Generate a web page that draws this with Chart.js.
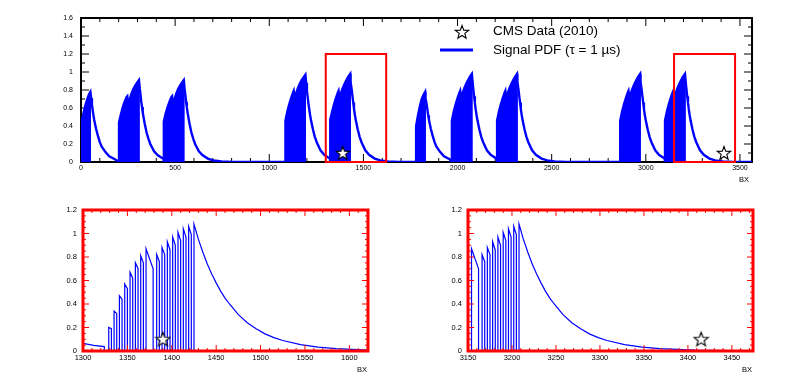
<!DOCTYPE html>
<html>
<head>
<meta charset="utf-8">
<script src="https://cdn.jsdelivr.net/npm/chart.js@4.4.1/dist/chart.umd.min.js"></script>
<style>
html, body { margin: 0; padding: 0; background: #fff; }
body { width: 788px; height: 381px; position: relative; overflow: hidden; }
canvas { position: absolute; }
#top { left: 0; top: 0; }
#zoomLeft { left: 0; top: 195px; }
#zoomRight { left: 394px; top: 195px; }
</style>
</head>
<body>
<canvas id="top" width="788" height="195"></canvas>
<canvas id="zoomLeft" width="394" height="186"></canvas>
<canvas id="zoomRight" width="394" height="186"></canvas>
<script>
// ---- data ----

// full orbit (top plot): bunch trains, envelope of the filled part + decay tail
const trainStartBX = [2, 202, 440, 1086, 1324, 1780, 1970, 2210, 2864, 3102];
const offsets16 = [0, 10, 20, 30, 40, 44, 49, 56, 66, 76, 86, 96, 106];
const offsets8 = [0, 10, 20, 30, 40, 48];
const trainEnvelope = [
  [0.42, 0.53, 0.62, 0.69, 0.75, 0.78],
  [0.44, 0.53, 0.61, 0.67, 0.72, 0.73, 0.62, 0.69, 0.76, 0.81, 0.85, 0.88, 0.91],
  [0.45, 0.54, 0.61, 0.67, 0.72, 0.73, 0.62, 0.69, 0.76, 0.81, 0.85, 0.88, 0.91],
  [0.46, 0.56, 0.64, 0.71, 0.77, 0.79, 0.70, 0.76, 0.82, 0.87, 0.91, 0.94, 0.97],
  [0.47, 0.56, 0.64, 0.71, 0.77, 0.79, 0.70, 0.76, 0.82, 0.87, 0.91, 0.95, 0.98],
  [0.40, 0.52, 0.62, 0.70, 0.75, 0.78],
  [0.46, 0.56, 0.64, 0.71, 0.77, 0.79, 0.70, 0.76, 0.82, 0.87, 0.91, 0.95, 0.98],
  [0.46, 0.56, 0.64, 0.71, 0.77, 0.79, 0.70, 0.76, 0.82, 0.87, 0.91, 0.95, 0.98],
  [0.46, 0.56, 0.64, 0.71, 0.77, 0.79, 0.70, 0.76, 0.82, 0.87, 0.91, 0.95, 0.98],
  [0.46, 0.56, 0.64, 0.71, 0.77, 0.79, 0.70, 0.76, 0.82, 0.87, 0.91, 0.95, 0.98]
];
const tailOffsets = [0, 4, 8, 12, 16, 20, 25, 30, 40, 50, 60, 80, 100, 130, 160, 200, 260];
const trainTail = [
  [0.78, 0.71, 0.64, 0.58, 0.52, 0.47, 0.42, 0.37, 0.29, 0.22, 0.17, 0.11, 0.064, 0.03, 0.014, 0.005, 0.001],
  [0.91, 0.82, 0.75, 0.67, 0.61, 0.55, 0.49, 0.43, 0.33, 0.26, 0.20, 0.12, 0.075, 0.035, 0.017, 0.006, 0.001],
  [0.91, 0.82, 0.75, 0.67, 0.61, 0.55, 0.49, 0.43, 0.33, 0.26, 0.20, 0.12, 0.075, 0.035, 0.017, 0.006, 0.001],
  [0.97, 0.88, 0.79, 0.72, 0.65, 0.59, 0.52, 0.46, 0.36, 0.28, 0.22, 0.13, 0.08, 0.038, 0.018, 0.007, 0.0015],
  [0.98, 0.89, 0.80, 0.73, 0.66, 0.59, 0.52, 0.46, 0.36, 0.28, 0.22, 0.13, 0.08, 0.038, 0.018, 0.007, 0.0015],
  [0.78, 0.71, 0.64, 0.58, 0.52, 0.47, 0.42, 0.37, 0.29, 0.22, 0.17, 0.11, 0.064, 0.03, 0.014, 0.005, 0.001],
  [0.98, 0.89, 0.80, 0.73, 0.66, 0.59, 0.52, 0.46, 0.36, 0.28, 0.22, 0.13, 0.08, 0.038, 0.018, 0.007, 0.0015],
  [0.98, 0.89, 0.80, 0.73, 0.66, 0.59, 0.52, 0.46, 0.36, 0.28, 0.22, 0.13, 0.08, 0.038, 0.018, 0.007, 0.0015],
  [0.98, 0.89, 0.80, 0.73, 0.66, 0.59, 0.52, 0.46, 0.36, 0.28, 0.22, 0.13, 0.08, 0.038, 0.018, 0.007, 0.0015],
  [0.98, 0.89, 0.80, 0.73, 0.66, 0.59, 0.52, 0.46, 0.36, 0.28, 0.22, 0.13, 0.08, 0.038, 0.018, 0.007, 0.0015]
];
const orbitBX = 3564;

// zoomed plots: single bunches resolved
const leadBX = [1300, 1312, 1324];
const leadPDF = [0.065, 0.048, 0.037];
const spikeBX = [1329, 1335, 1341, 1347, 1353, 1359, 1365, 1371, 1383, 1389, 1395, 1401, 1407, 1413, 1419,
                 3154, 3166, 3172, 3178, 3184, 3190, 3196, 3202];
const spikeEndBX = [1332, 1338, 1344, 1350, 1356, 1362, 1368, 1379, 1386, 1392, 1398, 1404, 1410, 1416, 1422,
                    3162, 3169, 3175, 3181, 3187, 3193, 3199, 3205];
const spikePeak = [0.20, 0.34, 0.47, 0.57, 0.67, 0.75, 0.81, 0.87, 0.82, 0.88, 0.93, 0.97, 1.01, 1.04, 1.06,
                   0.87, 0.82, 0.88, 0.93, 0.97, 1.01, 1.04, 1.06];
const spikeEnd = [0.19, 0.32, 0.44, 0.53, 0.62, 0.70, 0.75, 0.70, 0.76, 0.82, 0.86, 0.90, 0.94, 0.97, 0.99,
                  0.70, 0.76, 0.82, 0.86, 0.90, 0.94, 0.97, 0.99];
const tailLeftBX = [1425, 1430, 1435, 1440, 1445, 1450, 1455, 1460, 1465, 1475, 1485, 1495, 1505, 1515, 1525, 1545, 1565, 1585, 1625];
const tailLeftPDF = [1.08, 0.95, 0.84, 0.74, 0.655, 0.58, 0.51, 0.45, 0.40, 0.31, 0.24, 0.19, 0.146, 0.114, 0.089, 0.054, 0.033, 0.020, 0.007];
const tailRightBX = [3208, 3213, 3218, 3223, 3228, 3233, 3238, 3243, 3248, 3258, 3268, 3278, 3288, 3298, 3308, 3328, 3348, 3368, 3408, 3448, 3488];
const tailRightPDF = [1.08, 0.95, 0.84, 0.74, 0.655, 0.58, 0.51, 0.45, 0.40, 0.31, 0.24, 0.19, 0.146, 0.114, 0.089, 0.054, 0.033, 0.020, 0.007, 0.0025, 0.001];

// CMS data
const starBX = [1390, 3415];
const starPDF = [0.10, 0.10];

// axes
const topXTicks = [0, 500, 1000, 1500, 2000, 2500, 3000, 3500];
const topYTicks = [0, 0.2, 0.4, 0.6, 0.8, 1, 1.2, 1.4, 1.6];
const leftRange = [1300, 1621];
const rightRange = [3150, 3474];
const leftXTicks = [1300, 1350, 1400, 1450, 1500, 1550, 1600];
const rightXTicks = [3150, 3200, 3250, 3300, 3350, 3400, 3450];
const zoomYTicks = [0, 0.2, 0.4, 0.6, 0.8, 1, 1.2];

const BLUE = '#0000ff';
const RED = '#ff0000';
const FONT = 'Liberation Sans, Arial, Helvetica, sans-serif';

// ---- build point lists ----
const topLine = [{ x: 0, y: 0 }];
const trainFills = [];
trainStartBX.forEach((s, i) => {
  const offs = trainEnvelope[i].length === offsets16.length ? offsets16 : offsets8;
  const env = trainEnvelope[i].map((v, k) => ({ x: s + offs[k], y: v }));
  const end = s + offs[offs.length - 1];
  const next = i + 1 < trainStartBX.length ? trainStartBX[i + 1] : orbitBX;
  trainFills.push([{ x: s, y: 0 }, ...env, { x: end, y: 0 }]);
  topLine.push({ x: s, y: 0 }, ...env);
  tailOffsets.forEach((o, k) => {
    if (end + o < next) topLine.push({ x: end + o, y: trainTail[i][k] });
  });
});
topLine.push({ x: orbitBX, y: 0 });

const zoomLine = [];
const addSpike = i => zoomLine.push(
  { x: spikeBX[i], y: 0 }, { x: spikeBX[i], y: spikePeak[i] },
  { x: spikeEndBX[i], y: spikeEnd[i] }, { x: spikeEndBX[i], y: 0 });
leadBX.forEach((b, i) => zoomLine.push({ x: b, y: leadPDF[i] }));
zoomLine.push({ x: leadBX[leadBX.length - 1], y: 0 });
spikeBX.forEach((b, i) => { if (b < tailLeftBX[0]) addSpike(i); });
zoomLine.push({ x: tailLeftBX[0], y: 0 });
tailLeftBX.forEach((b, i) => zoomLine.push({ x: b, y: tailLeftPDF[i] }));
spikeBX.forEach((b, i) => { if (b > tailLeftBX[tailLeftBX.length - 1]) addSpike(i); });
zoomLine.push({ x: tailRightBX[0], y: 0 });
tailRightBX.forEach((b, i) => zoomLine.push({ x: b, y: tailRightPDF[i] }));

const stars = starBX.map((b, i) => ({ x: b, y: starPDF[i] }));

// ---- open star marker ----
function makeStar(size) {
  const c = document.createElement('canvas');
  c.width = size; c.height = size;
  const g = c.getContext('2d');
  const R = size / 2 - 1, r = R * 0.42, cx = size / 2, cy = size / 2 + 0.5;
  g.beginPath();
  for (let k = 0; k < 10; k++) {
    const rad = k % 2 ? r : R;
    const a = -Math.PI / 2 + k * Math.PI / 5;
    g.lineTo(cx + rad * Math.cos(a), cy + rad * Math.sin(a));
  }
  g.closePath();
  g.fillStyle = '#fff'; g.fill();
  g.strokeStyle = '#000'; g.lineWidth = 1.1; g.stroke();
  return c;
}

// ---- frame with inward ticks (ROOT look) ----
function framePlugin(o) {
  const hook = o.over ? 'afterDatasetsDraw' : 'beforeDatasetsDraw';
  return {
    id: 'frame',
    [hook](chart) {
      const { ctx, chartArea: a, scales: { x, y } } = chart;
      ctx.save();
      ctx.strokeStyle = o.color;
      ctx.lineWidth = 1;
      const seg = (x0, y0, x1, y1) => { ctx.beginPath(); ctx.moveTo(x0, y0); ctx.lineTo(x1, y1); ctx.stroke(); };
      const steps = (min, max, st) => {
        const out = [];
        for (let k = Math.ceil(min / st - 1e-9); k * st <= max + 1e-9; k++) out.push(k * st);
        return out;
      };
      steps(x.min, x.max, o.xMinor).forEach(v => {
        const p = x.getPixelForValue(v);
        const major = o.xTicks.some(t => Math.abs(t - v) < 1e-6);
        const L = major ? o.major : o.minor;
        seg(p, a.bottom, p, a.bottom - L);
        seg(p, a.top, p, a.top + L);
      });
      steps(y.min, y.max, o.yMinor).forEach(v => {
        const p = y.getPixelForValue(v);
        const major = o.yTicks.some(t => Math.abs(t - v) < 1e-6);
        const L = major ? o.major : o.minor;
        seg(a.left, p, a.left + L, p);
        seg(a.right, p, a.right - L, p);
      });
      ctx.lineWidth = o.width;
      ctx.strokeRect(a.left, a.top, a.right - a.left, a.bottom - a.top);
      ctx.fillStyle = '#000';
      ctx.font = '7.5px ' + FONT;
      ctx.textAlign = 'right';
      ctx.textBaseline = 'middle';
      ctx.fillText('BX', a.right + o.titleDx, a.bottom + o.titleDy);
      ctx.restore();
    }
  };
}

function fmt(v) { return String(Math.round(v * 10) / 10); }

function scales(xr, xt, yr, yt, fs, yPad, xPad) {
  return {
    x: {
      type: 'linear', min: xr[0], max: xr[1],
      grid: { display: false, drawTicks: false }, border: { display: false },
      afterBuildTicks: s => { s.ticks = xt.map(v => ({ value: v })); },
      afterFit: s => { s.height = 25; },
      ticks: { color: '#000', font: { family: FONT, size: fs }, padding: xPad, maxRotation: 0, autoSkip: false, callback: fmt }
    },
    y: {
      type: 'linear', min: yr[0], max: yr[1],
      grid: { display: false, drawTicks: false }, border: { display: false },
      afterBuildTicks: s => { s.ticks = yt.map(v => ({ value: v })); },
      afterFit: s => { s.width = 40; },
      ticks: { color: '#000', font: { family: FONT, size: fs }, padding: yPad, autoSkip: false, callback: fmt }
    }
  };
}

const common = {
  responsive: false,
  animation: false,
  events: [],
  plugins: { legend: { display: false }, tooltip: { enabled: false } }
};

// ---- top: full orbit ----
const zoomBoxes = {
  id: 'zoomBoxes',
  afterDatasetsDraw(chart) {
    const { ctx, scales: { x, y } } = chart;
    ctx.save();
    ctx.strokeStyle = RED;
    ctx.lineWidth = 2;
    [leftRange, rightRange].forEach(r => {
      const x0 = x.getPixelForValue(r[0]), x1 = x.getPixelForValue(r[1]);
      const y0 = y.getPixelForValue(0), y1 = y.getPixelForValue(zoomYTicks[zoomYTicks.length - 1]);
      ctx.strokeRect(x0, y1, x1 - x0, y0 - y1);
    });
    ctx.restore();
  }
};

const legendBox = {
  id: 'legendBox',
  afterDraw(chart) {
    const { ctx } = chart;
    const ds = chart.data.datasets;
    ctx.save();
    ctx.drawImage(ds[0].pointStyle, 462 - 8, 32 - 8, 16, 16);
    ctx.strokeStyle = BLUE;
    ctx.lineWidth = 3;
    ctx.beginPath(); ctx.moveTo(440, 50); ctx.lineTo(473, 50); ctx.stroke();
    ctx.fillStyle = '#000';
    ctx.font = '13.5px ' + FONT;
    ctx.textAlign = 'left';
    ctx.textBaseline = 'middle';
    ctx.fillText(ds[0].label, 493, 31);
    ctx.fillText(ds[1].label, 493, 50);
    ctx.restore();
  }
};

new Chart(document.getElementById('top'), {
  type: 'line',
  data: {
    datasets: [
      { label: 'CMS Data (2010)', data: stars, showLine: false, pointStyle: makeStar(16), pointRadius: 8 },
      { label: 'Signal PDF (\u03c4 = 1 \u00b5s)', data: topLine, borderColor: BLUE, borderWidth: 2.4, pointRadius: 0, fill: false },
      ...trainFills.map(f => ({ data: f, borderColor: BLUE, borderWidth: 1, backgroundColor: BLUE, pointRadius: 0, fill: 'origin' }))
    ]
  },
  options: {
    ...common,
    layout: { padding: { left: 41, right: 36, top: 18, bottom: 8 } },
    scales: scales([0, orbitBX], topXTicks, [0, 1.6], topYTicks, 7, 8, 2)
  },
  plugins: [
    framePlugin({ color: '#000', width: 2, xTicks: topXTicks, yTicks: topYTicks, xMinor: 100, yMinor: 0.1, major: 8, minor: 4, titleDx: -3, titleDy: 18 }),
    zoomBoxes, legendBox
  ]
});

// ---- bottom: zooms ----
function zoomChart(id, range, xt, pad) {
  new Chart(document.getElementById(id), {
    type: 'line',
    data: {
      datasets: [
        { label: 'CMS Data (2010)', data: stars, showLine: false, pointStyle: makeStar(17), pointRadius: 8 },
        { label: 'Signal PDF', data: zoomLine, borderColor: BLUE, borderWidth: 1.2, pointRadius: 0, fill: false }
      ]
    },
    options: {
      ...common,
      layout: { padding: pad },
      scales: scales(range, xt, [0, 1.2], zoomYTicks, 7.5, 6, 2)
    },
    plugins: [
      framePlugin({ color: RED, width: 3, over: true, xTicks: xt, yTicks: zoomYTicks, xMinor: 10, yMinor: 0.05, major: 6, minor: 3, titleDx: -1, titleDy: 19 })
    ]
  });
}
zoomChart('zoomLeft', leftRange, leftXTicks, { left: 43, right: 26, top: 15, bottom: 5 });
zoomChart('zoomRight', rightRange, rightXTicks, { left: 34, right: 35, top: 15, bottom: 5 });
</script>
</body>
</html>
